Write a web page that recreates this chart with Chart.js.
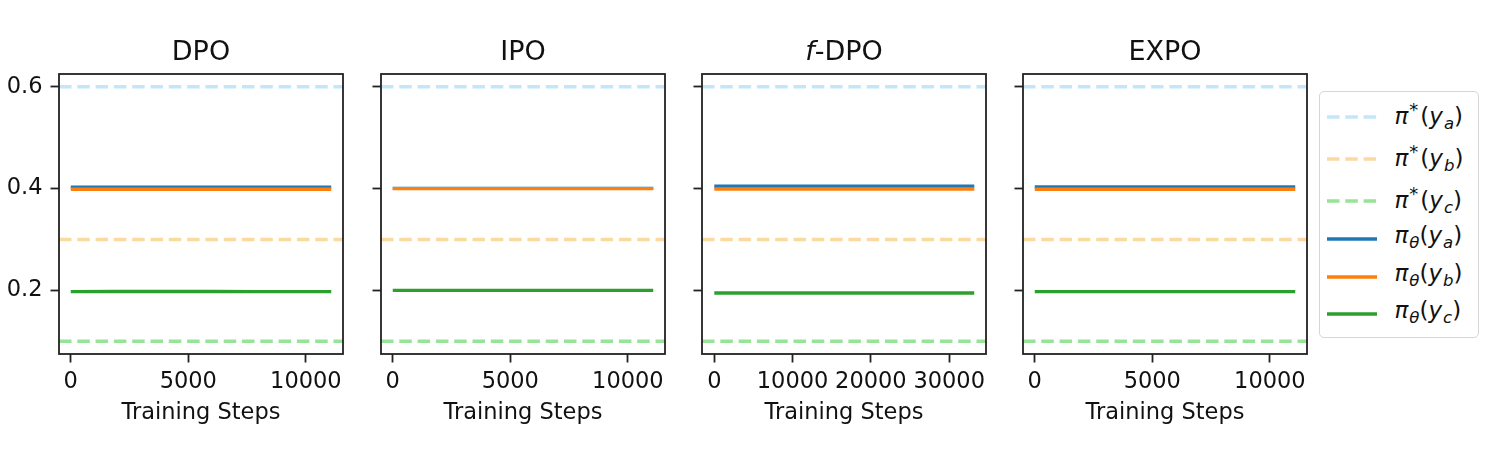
<!DOCTYPE html>
<html><head><meta charset="utf-8">
<script src="https://cdn.jsdelivr.net/npm/chart.js@4.4.1/dist/chart.umd.min.js"></script>
<style>
body{margin:0;background:#fff;width:1495px;height:465px;overflow:hidden;position:relative;font-family:'DejaVu Sans',sans-serif;}
canvas{position:absolute;top:0;}
.title{position:absolute;top:35px;height:32px;line-height:32px;font-size:27px;text-align:center;color:#111;white-space:nowrap}
#legend{position:absolute;left:1319px;top:91px;width:160px;height:247px;border:1.5px solid #d6d6d6;border-radius:5px;box-sizing:border-box;background:#fff}
.row{position:absolute;left:0;height:30px;display:flex;align-items:center;}
.row svg{margin-left:6.5px;display:block}
.lab{margin-left:18px;font-size:23px;line-height:30px;color:#111;white-space:nowrap}
.sup{font-size:78%;vertical-align:0.45em;margin:0 2px 0 1px}
.sub{font-size:72%;vertical-align:-0.3em;margin-left:1px}
</style></head><body>
<div id="legend"></div>
<script>
// ---------- data ----------
const panelTitles = ['DPO', 'IPO', 'f-DPO', 'EXPO'];
const seriesLabels = ['π*(y_a)', 'π*(y_b)', 'π*(y_c)', 'πθ(y_a)', 'πθ(y_b)', 'πθ(y_c)'];
const targetValues = [0.6, 0.3, 0.1];           // π*(y_a), π*(y_b), π*(y_c)

const stepsShort = [0, 2000, 4000, 6000, 8000, 10000, 11080];
const stepsLong  = [0, 5000, 10000, 15000, 20000, 25000, 30000, 33200];

const dpoA  = [0.4025, 0.4025, 0.4025, 0.4025, 0.4025, 0.4025, 0.4025];
const dpoB  = [0.3987, 0.3987, 0.3987, 0.3987, 0.3987, 0.3987, 0.3987];
const dpoC  = [0.1975, 0.1977, 0.1978, 0.1977, 0.1976, 0.1975, 0.1975];

const ipoA  = [0.4003, 0.4003, 0.4003, 0.4003, 0.4003, 0.4003, 0.4003];
const ipoB  = [0.3998, 0.3998, 0.3998, 0.3998, 0.3998, 0.3998, 0.3998];
const ipoC  = [0.1999, 0.1999, 0.1999, 0.1999, 0.1999, 0.1999, 0.1999];

const fdpoA = [0.4045, 0.4045, 0.4045, 0.4045, 0.4045, 0.4045, 0.4045, 0.4045];
const fdpoB = [0.3990, 0.3990, 0.3990, 0.3990, 0.3990, 0.3990, 0.3990, 0.3990];
const fdpoC = [0.1948, 0.1948, 0.1948, 0.1948, 0.1948, 0.1948, 0.1948, 0.1948];

const expoA = [0.4030, 0.4030, 0.4030, 0.4030, 0.4030, 0.4030, 0.4030];
const expoB = [0.3986, 0.3986, 0.3986, 0.3986, 0.3986, 0.3986, 0.3986];
const expoC = [0.1976, 0.1976, 0.1976, 0.1976, 0.1976, 0.1976, 0.1976];

const yTickValues = [0.2, 0.4, 0.6];
const yTickLabels = ['0.2', '0.4', '0.6'];
const xTickShort = [0, 5000, 10000];
const xTickShortLabels = ['0', '5000', '10000'];
const xTickLong = [0, 10000, 20000, 30000];
const xTickLongLabels = ['0', '10000', '20000', '30000'];
const xAxisTitle = 'Training Steps';

// ---------- styling / layout ----------
const refColors = ['#c3e6fb', '#fdd9a2', '#97e397'];
const lineColors = ['#1f77b4', '#ff7f0e', '#2ca02c'];
const dash = [12.5, 5.8];
const panels = [
  {steps: stepsShort, a: dpoA,  b: dpoB,  c: dpoC,  ticks: xTickShort, tickLabels: xTickShortLabels, xmin: -500, xmax: 11580, left: 59},
  {steps: stepsShort, a: ipoA,  b: ipoB,  c: ipoC,  ticks: xTickShort, tickLabels: xTickShortLabels, xmin: -500, xmax: 11580, left: 381},
  {steps: stepsLong,  a: fdpoA, b: fdpoB, c: fdpoC, ticks: xTickLong,  tickLabels: xTickLongLabels,  xmin: -1570, xmax: 34700, left: 702},
  {steps: stepsShort, a: expoA, b: expoB, c: expoC, ticks: xTickShort, tickLabels: xTickShortLabels, xmin: -500, xmax: 11580, left: 1023}
];
const AREA_W = 284, Y_W = 55, PAD_R = 8, TOP = 74, X_H = 73, H = 465;
const tickFont = {family: 'DejaVu Sans', size: 22.5, lineHeight: 1.2};

const boxPlugin = {
  id: 'box',
  afterDraw(chart) {
    const {ctx, chartArea: a} = chart;
    ctx.save();
    ctx.strokeStyle = '#222';
    ctx.lineWidth = 1.8;
    ctx.strokeRect(a.left, a.top, a.right - a.left, a.bottom - a.top);
    ctx.restore();
  }
};

function titleHTML(t) {
  return t.startsWith('f-') ? '<i>f</i>' + t.slice(1) : t;
}
function labelHTML(s) {
  // 'π*(y_a)' or 'πθ(y_a)'
  const mark = s[1];
  const letter = s[s.length - 2];
  const head = mark === '*' ? '<i>π</i><span class="sup">*</span>' : '<i>π</i><span class="sub"><i>θ</i></span>';
  return head + '(<i>y</i><span class="sub"><i>' + letter + '</i></span>)';
}

panels.forEach((p, pi) => {
  const cv = document.createElement('canvas');
  const W = Y_W + AREA_W + PAD_R;
  cv.width = W; cv.height = H;
  cv.style.left = (p.left - Y_W) + 'px';
  cv.style.width = W + 'px'; cv.style.height = H + 'px';
  document.body.appendChild(cv);

  const tdiv = document.createElement('div');
  tdiv.className = 'title';
  tdiv.style.left = p.left + 'px';
  tdiv.style.width = AREA_W + 'px';
  tdiv.innerHTML = titleHTML(panelTitles[pi]);
  document.body.appendChild(tdiv);

  const datasets = [];
  targetValues.forEach((v, i) => {
    datasets.push({
      label: seriesLabels[i],
      data: [{x: p.xmin, y: v}, {x: p.xmax, y: v}],
      borderColor: refColors[i], borderWidth: 3.4, borderDash: dash,
      borderCapStyle: 'butt', pointRadius: 0, order: 6 - i
    });
  });
  [p.a, p.b, p.c].forEach((vals, i) => {
    datasets.push({
      label: seriesLabels[3 + i],
      data: p.steps.map((s, k) => ({x: s, y: vals[k]})),
      borderColor: lineColors[i], borderWidth: 3.4,
      borderCapStyle: 'butt', pointRadius: 0, order: 3 - i
    });
  });

  new Chart(cv, {
    type: 'line',
    data: {datasets},
    plugins: [boxPlugin],
    options: {
      responsive: false, animation: false, devicePixelRatio: 1, events: [],
      layout: {padding: {left: 0, right: PAD_R, top: TOP, bottom: H - TOP - 280 - X_H}},
      plugins: {legend: {display: false}, tooltip: {enabled: false}, title: {display: false}},
      scales: {
        x: {
          type: 'linear', min: p.xmin, max: p.xmax,
          border: {display: false},
          grid: {display: true, drawOnChartArea: false, drawTicks: true, tickLength: 8.5, tickWidth: 1.8, tickColor: '#222'},
          afterBuildTicks: s => { s.ticks = p.ticks.map(v => ({value: v})); },
          ticks: {autoSkip: false, maxRotation: 0, minRotation: 0, padding: 6.5, color: '#111', font: tickFont,
                  callback: (v, i) => p.tickLabels[i]},
          title: {display: true, text: xAxisTitle, color: '#111', font: tickFont, padding: 0},
          afterFit: s => { s.height = X_H; s.paddingLeft = 0; s.paddingRight = 0; }
        },
        y: {
          type: 'linear', min: 0.075, max: 0.625,
          border: {display: false},
          grid: {display: true, drawOnChartArea: false, drawTicks: true, tickLength: 8.5, tickWidth: 1.8, tickColor: '#222'},
          afterBuildTicks: s => { s.ticks = yTickValues.map(v => ({value: v})); },
          ticks: {autoSkip: false, padding: 8, color: '#111', font: tickFont,
                  callback: (v, i) => pi === 0 ? yTickLabels[i] : ''},
          afterFit: s => { s.width = Y_W; s.paddingTop = 0; s.paddingBottom = 0; }
        }
      }
    }
  });
});

// ---------- legend ----------
const legendRowY = [25, 67, 109, 147, 185, 222];
const legend = document.getElementById('legend');
seriesLabels.forEach((lab, i) => {
  const row = document.createElement('div');
  row.className = 'row';
  row.style.top = (legendRowY[i] - 15) + 'px';
  const color = i < 3 ? refColors[i] : lineColors[i - 3];
  const dashAttr = i < 3 ? ` stroke-dasharray="${dash.join(' ')}"` : '';
  row.innerHTML = `<svg width="50" height="30"><line x1="0" y1="15" x2="50" y2="15" stroke="${color}" stroke-width="3.4"${dashAttr}/></svg><span class="lab">${labelHTML(lab)}</span>`;
  legend.appendChild(row);
});
</script>
</body></html>
